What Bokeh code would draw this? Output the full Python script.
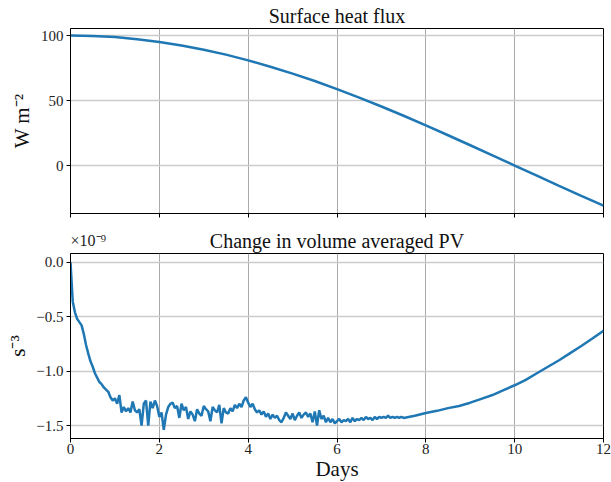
from bokeh.plotting import figure
from bokeh.layouts import column
from bokeh.models import Range1d, FixedTicker, CustomJSTickFormatter, Title
from bokeh.embed import file_html
from bokeh.resources import INLINE

FONT = "Liberation Serif"
LINE_COLOR = "#1f77b4"

# ---- data ----
flux_days = [0, 0.5, 1, 1.5, 2, 2.5, 3, 3.5, 4, 4.5, 5, 5.5, 6, 6.5, 7, 7.5,
             8, 8.5, 9, 9.5, 10, 10.5, 11, 11.5, 12]
flux_values = [100, 99.7, 98.8, 97.2, 95.1, 92.4, 89.1, 85.3, 80.9, 76.0, 70.7,
               65.0, 58.8, 52.2, 45.4, 38.3, 30.9, 23.3, 15.6, 7.8, 0.0, -7.8,
               -15.6, -23.3, -30.9]

pv_days = [round(0.05 * i, 2) for i in range(151)] + [
    7.75, 8.0, 8.25, 8.5, 8.75, 9.0, 9.25, 9.5, 9.75, 10.0, 10.25, 10.5,
    10.75, 11.0, 11.25, 11.5, 11.75, 12.0]
pv_values = [
    0.00, -0.36, -0.46, -0.52, -0.55, -0.58, -0.66, -0.76, -0.84, -0.91,   # 0.00-0.45
    -0.96, -1.02, -1.06, -1.10, -1.12, -1.15, -1.17, -1.19, -1.24, -1.27,  # 0.50-0.95
    -1.25, -1.30, -1.22, -1.38, -1.33, -1.37, -1.34, -1.38, -1.28, -1.36,  # 1.00-1.45
    -1.38, -1.35, -1.50, -1.30, -1.27, -1.50, -1.28, -1.34, -1.27, -1.32,  # 1.50-1.95
    -1.42, -1.38, -1.54, -1.40, -1.33, -1.30, -1.29, -1.34, -1.32, -1.43,  # 2.00-2.45
    -1.30, -1.36, -1.33, -1.44, -1.37, -1.40, -1.46, -1.35, -1.39, -1.41,  # 2.50-2.95
    -1.32, -1.35, -1.37, -1.46, -1.33, -1.36, -1.38, -1.31, -1.48, -1.34,  # 3.00-3.45
    -1.38, -1.39, -1.34, -1.37, -1.31, -1.34, -1.30, -1.33, -1.27, -1.24,  # 3.50-3.95
    -1.29, -1.33, -1.30, -1.35, -1.38, -1.36, -1.40, -1.37, -1.42, -1.39,  # 4.00-4.45
    -1.44, -1.40, -1.43, -1.41, -1.45, -1.47, -1.43, -1.38, -1.41, -1.44,  # 4.50-4.95
    -1.39, -1.45, -1.41, -1.38, -1.43, -1.40, -1.38, -1.42, -1.39, -1.47,  # 5.00-5.45
    -1.37, -1.50, -1.36, -1.44, -1.41, -1.47, -1.43, -1.47, -1.44, -1.48,  # 5.50-5.95
    -1.46, -1.44, -1.47, -1.45, -1.46, -1.44, -1.47, -1.43, -1.46, -1.44,  # 6.00-6.45
    -1.45, -1.43, -1.45, -1.42, -1.44, -1.43, -1.45, -1.42, -1.44, -1.42,  # 6.50-6.95
    -1.43, -1.42, -1.43, -1.41, -1.43, -1.42, -1.43, -1.42, -1.43, -1.42,  # 7.00-7.45
    -1.43,                                                                  # 7.50
    -1.41, -1.385, -1.365, -1.34, -1.32, -1.29, -1.255, -1.22, -1.175,
    -1.13, -1.08, -1.02, -0.96, -0.90, -0.835, -0.77, -0.70, -0.63]

day_ticks = [0, 2, 4, 6, 8, 10, 12]
flux_ticks = [0, 50, 100]
pv_ticks = [0.0, -0.5, -1.0, -1.5]

TITLE_TOP = "Surface heat flux"
TITLE_BOTTOM = "Change in volume averaged PV"
YLABEL_TOP = "W m\u207b\u00b2"
YLABEL_BOTTOM = "s\u207b\u00b3"
XLABEL = "Days"
OFFSET_TEXT = "\u00d710\u207b\u2079"


def style(p, yticks):
    p.background_fill_color = "white"
    p.outline_line_color = "black"
    p.outline_line_width = 1
    p.title.align = "center"
    p.title.vertical_align = "top"
    p.title.standoff = 0
    p.title.text_font = FONT
    p.title.text_font_style = "normal"
    p.title.text_font_size = "20px"
    p.title.text_color = "#111111"
    for ax in (p.xaxis[0], p.yaxis[0]):
        ax.axis_line_color = "black"
        ax.major_tick_line_color = "black"
        ax.minor_tick_line_color = None
        ax.major_tick_in = 0
        ax.major_tick_out = 4
        ax.major_label_text_font = FONT
        ax.major_label_text_font_size = "15px"
        ax.major_label_text_color = "#222222"
        ax.major_label_standoff = 3
        ax.axis_label_text_font = FONT
        ax.axis_label_text_font_style = "normal"
        ax.axis_label_text_font_size = "21px"
        ax.axis_label_text_color = "#111111"
    p.xaxis[0].ticker = FixedTicker(ticks=day_ticks)
    p.yaxis[0].ticker = FixedTicker(ticks=yticks)
    p.xgrid.grid_line_color = "#aaaaaa"
    p.xgrid.grid_line_width = 1
    p.ygrid.grid_line_color = "#cccccc"
    p.ygrid.grid_line_width = 1.5


# ---- upper panel ----
p1 = figure(frame_width=533, frame_height=185, output_backend="svg",
            toolbar_location=None, x_range=Range1d(0, 12),
            y_range=Range1d(-36.9, 105.4), title=TITLE_TOP,
            min_border_left=70, min_border_right=8, min_border_top=28,
            min_border_bottom=50)
style(p1, flux_ticks)
p1.border_fill_color = "white"
p1.yaxis[0].axis_label = YLABEL_TOP
p1.yaxis[0].axis_label_standoff = 4
# x tick labels are not shown in the upper panel (shared x axis)
p1.xaxis[0].major_label_text_color = None
p1.xaxis[0].major_label_text_font_size = "1px"
p1.xaxis[0].major_label_standoff = 0
p1.line(flux_days, flux_values, line_color=LINE_COLOR, line_width=2.5)
# scientific offset text of the lower panel's y axis (sits above lower frame)
p1.add_layout(Title(text=OFFSET_TEXT, align="left", offset=0, standoff=24,
                    text_font=FONT, text_font_size="16px",
                    text_font_style="normal", text_color="#222222"), "below")

# ---- lower panel ----
p2 = figure(frame_width=533, frame_height=185, output_backend="svg",
            toolbar_location=None, x_range=Range1d(0, 12),
            y_range=Range1d(-1.619, 0.08), title=TITLE_BOTTOM,
            min_border_left=70, min_border_right=8, min_border_top=27,
            min_border_bottom=44)
style(p2, pv_ticks)
p2.border_fill_color = None
p2.styles = {"margin-top": "-37px"}
p2.yaxis[0].axis_label = YLABEL_BOTTOM
p2.yaxis[0].axis_label_standoff = 3
p2.yaxis[0].formatter = CustomJSTickFormatter(
    code="return tick.toFixed(1).replace('-', '\\u2212');")
p2.xaxis[0].axis_label = XLABEL
p2.xaxis[0].major_label_standoff = 1
p2.xaxis[0].axis_label_standoff = 0
p2.line(pv_days, pv_values, line_color=LINE_COLOR, line_width=2.5)

layout = column(p1, p2, spacing=0)
open("out.html", "w").write(file_html(layout, INLINE))
